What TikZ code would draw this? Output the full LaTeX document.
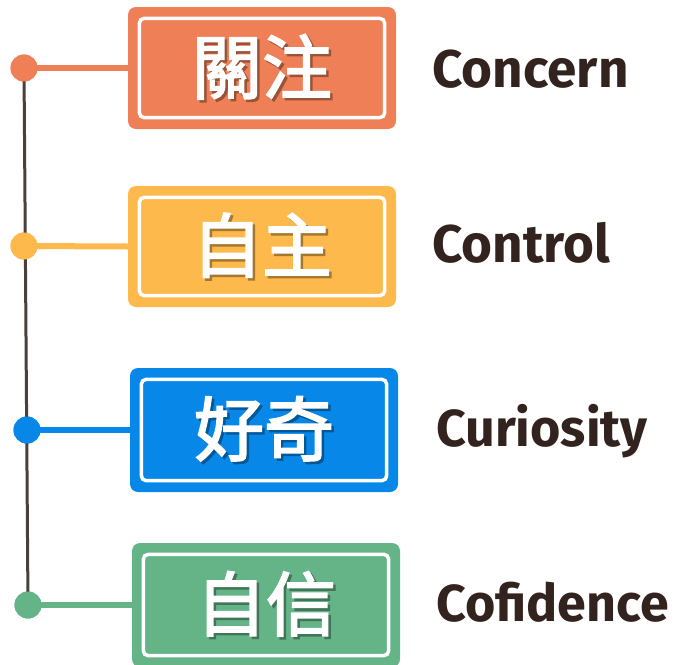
\documentclass[tikz,border=0pt]{standalone}
\usepackage{fontspec}
\setmainfont{Fira Sans}
\newfontfamily\cjk{Noto Sans CJK TC}[FakeBold=2.5]
\usetikzlibrary{calc}
\definecolor{cOrange}{HTML}{EF7F56}
\definecolor{cYellow}{HTML}{FDB94B}
\definecolor{cBlue}{HTML}{0788E8}
\definecolor{cGreen}{HTML}{64B488}
\definecolor{cStem}{HTML}{4A403B}
\definecolor{cText}{HTML}{33231F}
\newcommand{\shadowed}[2]{\makebox[0pt][l]{\kern2.5pt\raisebox{-2.5pt}{\textcolor{#1!65!black}{#2}}}#2}
\tikzset{
  card/.style={rectangle, rounded corners=8pt, fill=#1, minimum width=268pt, minimum height=122pt, inner sep=0pt},
  dot/.style={circle, fill=#1, minimum size=27pt, inner sep=0pt},
  link/.style={draw=#1, line width=6pt},
  stem/.style={draw=cStem, line width=3pt},
  frame/.style={draw=white, line width=3.5pt, rounded corners=5pt},
  cjklabel/.style={text=white, font=\cjk\fontsize{70}{70}\selectfont, inner sep=0pt},
  enlabel/.style={text=cText, font=\bfseries\fontsize{#1}{#1}\selectfont, anchor=base west, inner sep=0pt},
}
\begin{document}
\begin{tikzpicture}[x=1pt,y=-1pt]
\useasboundingbox (0,0) rectangle (677,664);
% cards
\node[card=cOrange] (b1) at (262,68) {};
\node[card=cYellow, minimum height=121pt] (b2) at (262,246.5) {};
\node[card=cBlue, minimum height=124pt] (b3) at (264,430) {};
\node[card=cGreen, minimum height=124pt] (b4) at (266,605) {};
\foreach \b in {b1,b2,b3,b4}{
  \draw[frame] ($(\b.north west)+(11.5,11.5)$) rectangle ($(\b.south east)+(-11.5,-11.5)$);
}
% dots (positions)
\node[dot=cOrange] (d1) at (24,68) {};
\node[dot=cYellow] (d2) at (24,246) {};
\node[dot=cBlue] (d3) at (27,430) {};
\node[dot=cGreen] (d4) at (28,605) {};
% stem and links
\path[stem] (d1.center) -- (d4.center);
\path[link=cOrange] (d1.center) -- (b1.west);
\path[link=cYellow] (d2.center) -- (b2.west);
\path[link=cBlue] (d3.center) -- (b3.west);
\path[link=cGreen] (d4.center) -- (b4.west);
% dots on top of lines
\node[dot=cOrange] at (d1) {};
\node[dot=cYellow] at (d2) {};
\node[dot=cBlue] at (d3) {};
\node[dot=cGreen] at (d4) {};
% cjk labels
\node[cjklabel] (t1) at (b1.center) {\shadowed{cOrange}{關注}};
\node[cjklabel] (t2) at (b2.center) {\shadowed{cYellow}{自主}};
\node[cjklabel] (t3) at (b3.center) {\shadowed{cBlue}{好奇}};
\node[cjklabel] (t4) at (b4.center) {\shadowed{cGreen}{自信}};
% english labels
\node[enlabel=53] (e1) at (432,87) {Concern};
\node[enlabel=53] (e2) at (432,262) {Control};
\node[enlabel=52] (e3) at (436,446) {Curiosity};
\node[enlabel=52] (e4) at (436,621) {Cofidence};
\end{tikzpicture}
\end{document}
